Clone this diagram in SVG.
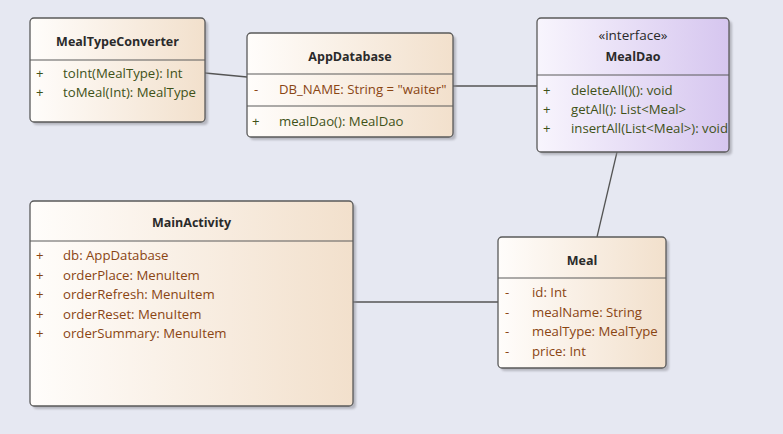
<svg xmlns="http://www.w3.org/2000/svg" width="783" height="434" viewBox="0 0 783 434">
<defs>
<linearGradient id="gc" x1="0" y1="0" x2="1" y2="0">
<stop offset="0" stop-color="#fffdfb"/>
<stop offset="1" stop-color="#f2e0cc"/>
</linearGradient>
<linearGradient id="gi" x1="0" y1="0" x2="1" y2="0">
<stop offset="0" stop-color="#f8f5fd"/>
<stop offset="1" stop-color="#d6c6ef"/>
</linearGradient>
<filter id="sh" x="-10%" y="-10%" width="120%" height="120%">
<feGaussianBlur stdDeviation="1.2"/>
</filter>
</defs>
<style>
.bg{fill:#e6e8f2}
.shadow{fill:#8e8e96;opacity:0.55;filter:url(#sh)}
.box{stroke:#5a5a5a;stroke-width:1.3}
.div{stroke:#5a5a5a;stroke-width:1.2}
.title{font-family:"Open Sans","Liberation Sans",sans-serif;font-size:12.5px;font-weight:bold;fill:#2a2a2a;text-anchor:middle}
.stereo{font-family:"Open Sans","Liberation Sans",sans-serif;font-size:13.5px;fill:#2a2a2a;text-anchor:middle}
.attr{font-family:"Open Sans","Liberation Sans",sans-serif;font-size:13.2px;fill:#8a4513}
.op{font-family:"Open Sans","Liberation Sans",sans-serif;font-size:13.2px;fill:#3f5218}
.conn{stroke:#555;stroke-width:1.3;fill:none}
</style>
<rect class="bg" x="0" y="0" width="783" height="434"/>

<g id="connectors">
<line class="conn" x1="205" y1="73" x2="247" y2="77"/>
<line class="conn" x1="453" y1="86" x2="537" y2="86"/>
<line class="conn" x1="617" y1="152" x2="597" y2="237"/>
<line class="conn" x1="353" y1="302" x2="498" y2="302"/>
</g>

<g id="MealTypeConverter">
<rect class="shadow" x="33" y="21" width="175" height="104" rx="4"/>
<rect class="box" x="30" y="18" width="175" height="104" rx="4" fill="url(#gc)"/>
<line class="div" x1="30" y1="60" x2="205" y2="60"/>
<text class="title" x="117.5" y="46">MealTypeConverter</text>
<text class="op" x="36" y="78">+</text>
<text class="op" x="63" y="78">toInt(MealType): Int</text>
<text class="op" x="36" y="97">+</text>
<text class="op" x="63" y="97">toMeal(Int): MealType</text>
</g>

<g id="AppDatabase">
<rect class="shadow" x="250" y="36" width="206" height="104" rx="4"/>
<rect class="box" x="247" y="33" width="206" height="104" rx="4" fill="url(#gc)"/>
<line class="div" x1="247" y1="74" x2="453" y2="74"/>
<line class="div" x1="247" y1="106" x2="453" y2="106"/>
<text class="title" x="350" y="61">AppDatabase</text>
<text class="attr" x="254" y="94">-</text>
<text class="attr" x="279" y="94">DB_NAME: String = "waiter"</text>
<text class="op" x="252" y="126">+</text>
<text class="op" x="279" y="126">mealDao(): MealDao</text>
</g>

<g id="MealDao">
<rect class="shadow" x="540" y="21" width="192" height="134" rx="4"/>
<rect class="box" x="537" y="18" width="192" height="134" rx="4" fill="url(#gi)"/>
<line class="div" x1="537" y1="75" x2="729" y2="75"/>
<text class="stereo" x="633" y="40">«interface»</text>
<text class="title" x="633" y="61">MealDao</text>
<text class="op" x="543" y="95">+</text>
<text class="op" x="571" y="95">deleteAll()(): void</text>
<text class="op" x="543" y="114">+</text>
<text class="op" x="571" y="114">getAll(): List&lt;Meal&gt;</text>
<text class="op" x="543" y="133">+</text>
<text class="op" x="571" y="133">insertAll(List&lt;Meal&gt;): void</text>
</g>

<g id="MainActivity">
<rect class="shadow" x="33" y="204" width="323" height="205" rx="4"/>
<rect class="box" x="30" y="201" width="323" height="205" rx="4" fill="url(#gc)"/>
<line class="div" x1="30" y1="241" x2="353" y2="241"/>
<text class="title" x="191.5" y="227">MainActivity</text>
<text class="attr" x="36" y="260">+</text>
<text class="attr" x="63" y="260">db: AppDatabase</text>
<text class="attr" x="36" y="279.5">+</text>
<text class="attr" x="63" y="279.5">orderPlace: MenuItem</text>
<text class="attr" x="36" y="299">+</text>
<text class="attr" x="63" y="299">orderRefresh: MenuItem</text>
<text class="attr" x="36" y="318.5">+</text>
<text class="attr" x="63" y="318.5">orderReset: MenuItem</text>
<text class="attr" x="36" y="338">+</text>
<text class="attr" x="63" y="338">orderSummary: MenuItem</text>
</g>

<g id="Meal">
<rect class="shadow" x="501" y="240" width="168" height="131" rx="4"/>
<rect class="box" x="498" y="237" width="168" height="131" rx="4" fill="url(#gc)"/>
<line class="div" x1="498" y1="278" x2="666" y2="278"/>
<text class="title" x="582" y="265">Meal</text>
<text class="attr" x="505" y="297">-</text>
<text class="attr" x="532" y="297">id: Int</text>
<text class="attr" x="505" y="316.5">-</text>
<text class="attr" x="532" y="316.5">mealName: String</text>
<text class="attr" x="505" y="336">-</text>
<text class="attr" x="532" y="336">mealType: MealType</text>
<text class="attr" x="505" y="355.5">-</text>
<text class="attr" x="532" y="355.5">price: Int</text>
</g>
</svg>
